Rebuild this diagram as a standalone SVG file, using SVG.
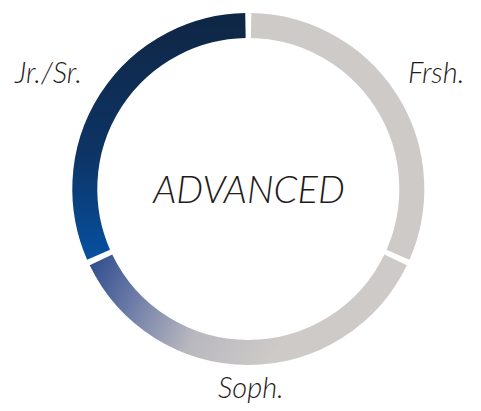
<svg xmlns="http://www.w3.org/2000/svg" width="481" height="411" viewBox="0 0 481 411">
<style>
.seg{fill:none;stroke-width:25}
.lbl{font-family:Lato,"Open Sans","Liberation Sans",sans-serif;font-style:italic;font-weight:300;fill:#1f1b1c}
</style>
<defs>
<linearGradient id="gJr" gradientUnits="userSpaceOnUse" x1="0" y1="25" x2="0" y2="258">
<stop offset="0" stop-color="#0f2747"/>
<stop offset="0.55" stop-color="#0d3464"/>
<stop offset="1" stop-color="#06509f"/>
</linearGradient>
<linearGradient id="gSo" gradientUnits="userSpaceOnUse" x1="95" y1="258" x2="280" y2="345">
<stop offset="0" stop-color="#32508f"/>
<stop offset="0.25" stop-color="#6b7aa6"/>
<stop offset="0.6" stop-color="#b9b8bf"/>
<stop offset="1" stop-color="#cdcac7"/>
</linearGradient>
</defs>
<rect width="481" height="411" fill="#ffffff"/>
<g id="connectors"/>
<g id="frsh">
<path class="seg" stroke="#cdcac7" d="M251.15,25.52 A163.5,163.5 0 0 1 398.02,254.72"/>
<text class="lbl" x="408" y="83" font-size="29">Frsh.</text>
</g>
<g id="soph">
<path class="seg" stroke="url(#gSo)" d="M395.63,259.9 A163.5,163.5 0 0 1 100.97,259.9"/>
<text class="lbl" x="218" y="398" font-size="29">Soph.</text>
</g>
<g id="jrsr">
<path class="seg" stroke="url(#gJr)" d="M98.58,254.72 A163.5,163.5 0 0 1 245.45,25.52"/>
<text class="lbl" x="15" y="83" font-size="29">Jr./Sr.</text>
</g>
<g id="center">
<text class="lbl" x="249" y="203" font-size="38" text-anchor="middle">ADVANCED</text>
</g>
</svg>
